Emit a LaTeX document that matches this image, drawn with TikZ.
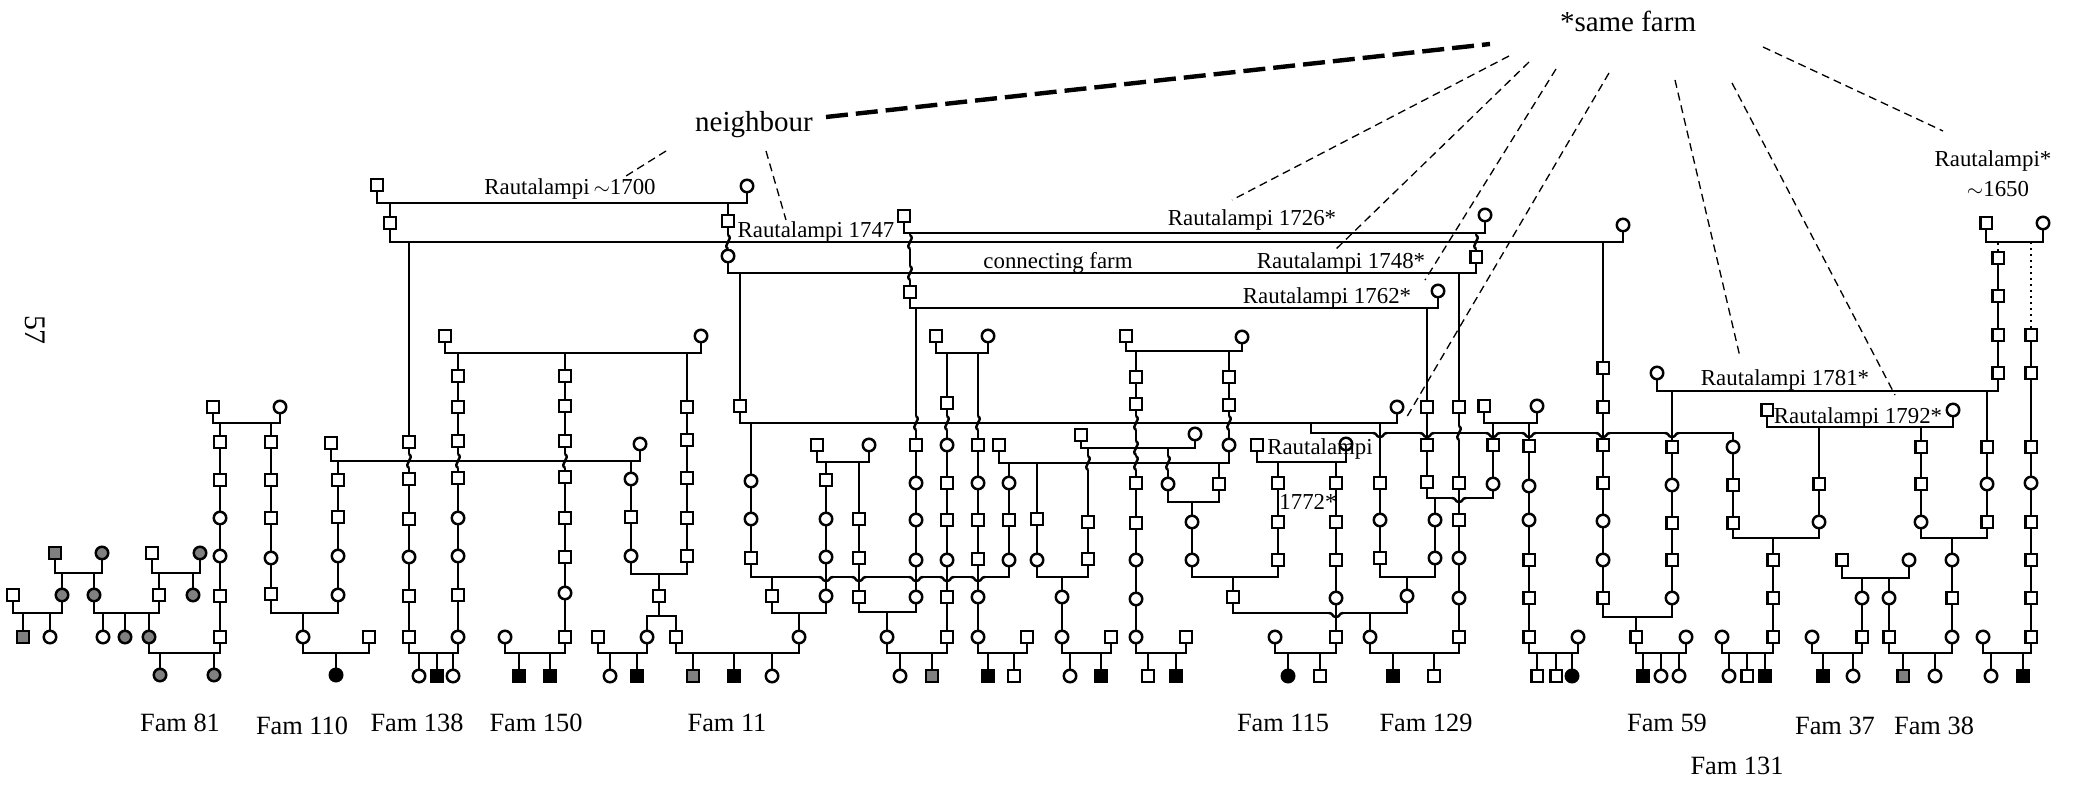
\documentclass[tikz,border=0pt]{standalone}
\usepackage{fontspec}
\setmainfont{Liberation Serif}

\tikzset{
  sq/.style={draw, rectangle, minimum size=0.23cm, inner sep=0pt, fill=white},
  ci/.style={draw, circle, minimum size=0.25cm, inner sep=0pt, fill=white},
  sqg/.style={sq, fill=gray},
  cig/.style={ci, fill=gray},
  sqb/.style={sq, fill=black},
  cib/.style={ci, fill=black},
  lab/.style={font=\fontsize{13}{15}\selectfont, inner sep=0pt},
  fam/.style={font=\fontsize{15}{18}\selectfont, inner sep=0pt},
  big/.style={font=\fontsize{16.5}{19}\selectfont, inner sep=0pt},
  link/.style={line width=0.75pt, dash pattern=on 0.16cm off 0.1cm},
  farlink/.style={line width=2.5pt, dash pattern=on 0.44cm off 0.16cm},
}
% a line of descent: name, x, list of y/kind
\newcommand{\pcol}[3]{%
  \foreach \yv/\kind [count=\ii, remember=\ii as \jj (initially 0)] in {#3}{%
    \node[\kind] (#1\ii) at (#2,\yv) {};
    \ifnum\jj>0 \draw (#1\jj) -- (#1\ii);\fi
  }}
\newcommand{\mate}[3]{\draw (#1) -- (#1 |- 0,#3) -| (#2);}
\newcommand{\kids}[2]{\foreach \kid in {#2}{\draw (\kid) -- (\kid |- 0,#1);}}
% crossings
\newcommand{\wig}[2]{%
  \fill[white] ({#1-3},{#2-7}) rectangle ({#1+3},{#2+7});
  \draw ({#1-3},#2) -- ({#1+3},#2);
  \draw (#1,{#2-7}) .. controls ({#1+6},{#2-3}) and ({#1-6},{#2+3}) .. (#1,{#2+7});}
\newcommand{\hop}[2]{%
  \fill[white] ({#1-7},{#2-3}) rectangle ({#1+7},{#2+3});
  \draw (#1,{#2-3}) -- (#1,{#2+3});
  \draw ({#1-7},#2) .. controls ({#1-3},#2) and ({#1-4},{#2+4}) .. (#1,{#2+4})
    .. controls ({#1+4},{#2+4}) and ({#1+3},#2) .. ({#1+7},#2);}

\begin{document}
\begin{tikzpicture}[x=0.02cm, y=-0.02cm, line width=1.4pt]
\useasboundingbox (0,0) rectangle (2089,786);

\node[rotate=-90, font=\fontsize{17}{20}\selectfont] (page) at (35,330) {57};

% Fam 81 and Fam 110
\node[sqg] (f1) at (55,553) {}; \node[cig] (f2) at (102,553) {}; \mate{f1}{f2}{573}
\node[sq] (f3) at (152,553) {}; \node[cig] (f4) at (200,553) {}; \mate{f3}{f4}{573}
\node[sq] (f5) at (13,595) {}; \node[cig] (f6) at (62,595) {}; \node[cig] (f7) at (94,595) {};
\node[sq] (f8) at (159,595) {}; \node[cig] (f9) at (193,595) {};
\kids{573}{f6,f7,f8,f9}
\mate{f5}{f6}{613}
\node[sqg] (f10) at (23,637) {}; \node[ci] (f11) at (50,637) {}; \kids{613}{f10,f11}
\mate{f7}{f8}{613}
\node[ci] (f12) at (103,637) {}; \node[cig] (f13) at (125,637) {}; \node[cig] (f14) at (149,637) {};
\kids{613}{f12,f13,f14}
\node[sq] (f15) at (213,407) {}; \node[ci] (f16) at (280,407) {}; \mate{f15}{f16}{423}
\pcol{a}{220}{442/sq,480/sq,518/ci,556/ci,596/sq,637/sq}
\pcol{b}{271}{442/sq,480/sq,518/sq,558/ci,594/sq}
\kids{423}{a1,b1}
\mate{f14}{a6}{653}
\node[cig] (f17) at (160,675) {}; \node[cig] (f18) at (214,675) {}; \kids{653}{f17,f18}
\node[sq] (g1) at (331,443) {}; \node[ci] (g2) at (640,444) {}; \mate{g1}{g2}{461}
\pcol{c}{338}{480/sq,517/sq,556/ci,595/ci} \kids{461}{c1}
\mate{b5}{c4}{613}
\node[ci] (g3) at (303,637) {}; \kids{613}{g3}
\node[sq] (g4) at (369,637) {}; \mate{g3}{g4}{653}
\node[cib] (g5) at (336,675) {}; \kids{653}{g5}

% old farm lines
\node[sq] (t1) at (377,185) {}; \node[ci] (t2) at (747,186) {}; \mate{t1}{t2}{203}
\node[sq] (t3) at (390,223) {}; \kids{203}{t3}
\pcol{m}{728}{221/sq,256/ci} \kids{203}{m1}
\node[ci] (t4) at (1623,225) {}; \mate{t3}{t4}{242}
\node[sq] (t5) at (904,216) {}; \node[ci] (t6) at (1485,215) {}; \mate{t5}{t6}{233}
\node[sq] (t7) at (910,292) {}; \node[sq] (t8) at (1476,257) {}; \kids{233}{t7,t8}
\mate{m2}{t8}{273}
\node[ci] (t9) at (1438,291) {}; \mate{t7}{t9}{308}
\node[sq] (t10) at (740,406) {}; \kids{273}{t10}
\node[ci] (t11) at (1397,407) {}; \mate{t10}{t11}{423}
\pcol{r}{1459}{407/sq,483/sq,520/sq,558/ci,598/ci,637/sq} \kids{273}{r1}
\pcol{q}{1427}{407/sq,445/sq,482/sq} \kids{308}{q1}
\pcol{d}{409}{442/sq,479/sq,519/sq,557/ci,596/sq,637/sq} \kids{242}{d1}
\pcol{u}{1603}{368/sq,407/sq,445/sq,483/sq,521/ci,560/ci,598/sq} \kids{242}{u1}

% Fam 138, Fam 150, Fam 11
\node[sq] (h1) at (445,336) {}; \node[ci] (h2) at (701,336) {}; \mate{h1}{h2}{353}
\pcol{e}{458}{376/sq,407/sq,441/sq,478/sq,518/ci,556/ci,595/sq,637/ci}
\pcol{k}{565}{376/sq,406/sq,441/sq,477/sq,518/sq,557/sq,593/ci,637/sq}
\pcol{p}{687}{407/sq,440/sq,478/sq,518/sq,556/sq}
\kids{353}{e1,k1,p1}
\mate{d6}{e8}{653}
\node[ci] (h3) at (419,676) {}; \node[sqb] (h4) at (437,676) {}; \node[ci] (h5) at (453,676) {};
\kids{653}{h3,h4,h5}
\node[ci] (h6) at (505,637) {}; \mate{h6}{k8}{653}
\node[sqb] (h7) at (519,676) {}; \node[sqb] (h8) at (550,676) {}; \kids{653}{h7,h8}
\pcol{v}{631}{479/ci,517/sq,556/ci} \kids{461}{v1}
\mate{v3}{p5}{574}
\node[sq] (h9) at (659,596) {}; \kids{574}{h9}
\node[ci] (h10) at (647,637) {}; \node[sq] (h11) at (676,637) {};
\draw (h9) -- (h9 |- 0,616); \draw (h10) -- (h10 |- 0,616) -| (h11);
\node[sq] (h12) at (598,637) {}; \mate{h12}{h10}{653}
\node[ci] (h13) at (610,676) {}; \node[sqb] (h14) at (637,676) {}; \kids{653}{h13,h14}

% middle families
\pcol{w}{751}{481/ci,519/ci,558/sq} \kids{423}{w1}
\node[sq] (i1) at (936,336) {}; \node[ci] (i2) at (988,336) {}; \mate{i1}{i2}{353}
\pcol{x}{947}{403/sq,445/ci,483/sq,520/sq,560/ci,597/sq,637/sq}
\pcol{y}{978}{445/sq,483/ci,520/sq,559/sq,597/ci,637/ci}
\kids{353}{x1,y1}
\pcol{z}{916}{445/sq,483/ci,520/ci,560/ci,597/ci} \kids{308}{z1}
\node[sq] (i3) at (817,445) {}; \node[ci] (i4) at (869,445) {}; \mate{i3}{i4}{462}
\pcol{aa}{826}{480/sq,519/ci,557/ci,596/ci}
\pcol{bb}{859}{519/sq,558/sq,597/sq}
\kids{462}{aa1,bb1}
\node[sq] (j1) at (999,445) {};
\node[sq] (j3) at (1126,336) {}; \node[ci] (j4) at (1242,337) {}; \mate{j3}{j4}{351}
\pcol{dd}{1229}{377/sq,405/sq,445/ci}
\pcol{ee}{1136}{377/sq,404/sq,483/sq,523/sq,560/ci,599/ci,637/ci}
\kids{351}{dd1,ee1}
\mate{j1}{dd3}{463}
\pcol{cc}{1009}{483/ci,520/sq,560/ci}
\pcol{ff}{1037}{519/sq,560/ci}
\kids{463}{cc1,ff1}
\mate{w3}{cc3}{577}
\node[sq] (i6) at (772,596) {}; \kids{577}{i6}
\mate{i6}{aa4}{613}
\node[ci] (h15) at (799,637) {}; \kids{613}{h15}
\mate{h11}{h15}{653}
\node[sqg] (h16) at (693,676) {}; \node[sqb] (h17) at (734,676) {}; \node[ci] (h18) at (772,676) {};
\kids{653}{h16,h17,h18}
\mate{bb3}{z5}{612}
\node[ci] (i7) at (887,637) {}; \kids{612}{i7}
\mate{i7}{x7}{653}
\node[ci] (i8) at (900,676) {}; \node[sqg] (i9) at (932,676) {}; \kids{653}{i8,i9}
\node[sq] (i10) at (1027,637) {}; \mate{y6}{i10}{653}
\node[sqb] (i11) at (988,676) {}; \node[sq] (i12) at (1014,676) {}; \kids{653}{i11,i12}
\node[sq] (j5) at (1081,435) {}; \node[ci] (j6) at (1195,434) {}; \mate{j5}{j6}{448}
\pcol{gg}{1088}{522/sq,559/sq}
\node[ci] (j7) at (1168,484) {};
\kids{448}{gg1,j7}
\node[sq] (j8) at (1219,484) {}; \kids{463}{j8}
\mate{ff2}{gg2}{577}
\pcol{hh}{1062}{597/ci,637/ci} \kids{577}{hh1}
\node[sq] (j9) at (1111,637) {}; \mate{hh2}{j9}{653}
\node[ci] (j10) at (1070,676) {}; \node[sqb] (j11) at (1101,676) {}; \kids{653}{j10,j11}
\node[sq] (j12) at (1186,637) {}; \mate{ee7}{j12}{653}
\node[sq] (j13) at (1148,676) {}; \node[sqb] (j14) at (1176,676) {}; \kids{653}{j13,j14}
\mate{j7}{j8}{502}
\pcol{ii}{1192}{522/ci,560/ci} \kids{502}{ii1}
\node[sq] (j15) at (1257,445) {}; \node[ci] (j16) at (1346,444) {}; \mate{j15}{j16}{462}
\pcol{jj}{1278}{483/sq,522/sq,560/sq}
\pcol{kk}{1336}{483/sq,522/sq,560/sq,598/ci,637/sq}
\kids{462}{jj1,kk1}
\mate{ii2}{jj3}{577}
\node[sq] (j17) at (1233,597) {}; \kids{577}{j17}
\node[ci] (j18) at (1275,637) {}; \mate{j18}{kk5}{653}
\node[cib] (j19) at (1288,676) {}; \node[sq] (j20) at (1320,676) {}; \kids{653}{j19,j20}

% right families
\pcol{ll}{1380}{483/sq,520/ci,558/sq} \kids{423}{ll1}
\node[sq] (k2) at (1484,406) {}; \node[ci] (k3) at (1537,406) {}; \mate{k2}{k3}{423}
\pcol{mm}{1493}{445/sq,484/ci}
\pcol{nn}{1529}{446/sq,486/ci,520/ci,560/sq,598/sq,637/sq}
\kids{423}{mm1,nn1}
\mate{q3}{mm2}{498}
\pcol{oo}{1435}{520/ci,558/ci} \kids{498}{oo1}
\mate{ll3}{oo2}{577}
\node[ci] (k4) at (1407,596) {}; \kids{577}{k4}
\mate{j17}{k4}{613}
\node[ci] (k5) at (1370,637) {}; \kids{613}{k5}
\mate{k5}{r6}{653}
\node[sqb] (k6) at (1393,676) {}; \node[sq] (k7) at (1434,676) {}; \kids{653}{k6,k7}
\node[ci] (k8) at (1578,637) {}; \mate{nn6}{k8}{653}
\node[sq] (k9) at (1537,676) {}; \node[sq] (k10) at (1556,676) {}; \node[cib] (k11) at (1572,676) {};
\kids{653}{k9,k10,k11}
\node[ci] (k12) at (1657,373) {};
\pcol{pp}{1998}{258/sq,296/sq,335/sq,373/sq}
\mate{k12}{pp4}{391}
\pcol{qq}{1672}{447/sq,485/ci,523/sq,560/sq,598/ci}
\pcol{uu}{1987}{447/sq,484/ci,522/sq}
\kids{391}{qq1,uu1}
\mate{u7}{qq5}{617}
\node[sq] (k13) at (1636,637) {}; \kids{617}{k13}
\node[ci] (k14) at (1686,637) {}; \mate{k13}{k14}{653}
\node[sqb] (k15) at (1643,676) {}; \node[ci] (k16) at (1661,676) {}; \node[ci] (k17) at (1679,676) {};
\kids{653}{k15,k16,k17}
\coordinate (stp) at (1311,423);
\pcol{rr}{1733}{447/ci,485/sq,523/sq}
\draw (stp) -- ++(0,10) -| (rr1);
\node[sq] (k18) at (1767,410) {}; \node[ci] (k19) at (1953,410) {}; \mate{k18}{k19}{427}
\pcol{ss}{1819}{484/sq,522/ci}
\pcol{tt}{1921}{447/sq,484/sq,522/ci}
\kids{427}{ss1,tt1}
\mate{rr3}{ss2}{538}
\pcol{vv}{1773}{560/sq,598/sq,637/sq} \kids{538}{vv1}
\node[ci] (k20) at (1722,637) {}; \mate{k20}{vv3}{653}
\node[ci] (k21) at (1729,676) {}; \node[sq] (k22) at (1747,676) {}; \node[sqb] (k23) at (1765,676) {};
\kids{653}{k21,k22,k23}
\mate{tt3}{uu3}{538}
\pcol{ww}{1952}{560/ci,598/sq,637/ci} \kids{538}{ww1}
\node[sq] (k24) at (1842,560) {}; \node[ci] (k25) at (1909,560) {}; \mate{k24}{k25}{578}
\pcol{xx}{1862}{598/ci,637/sq}
\pcol{yy}{1889}{598/ci,637/sq}
\kids{578}{xx1,yy1}
\node[ci] (k26) at (1812,637) {}; \mate{k26}{xx2}{653}
\node[sqb] (k27) at (1823,676) {}; \node[ci] (k28) at (1853,676) {}; \kids{653}{k27,k28}
\mate{yy2}{ww3}{653}
\node[sqg] (k29) at (1903,676) {}; \node[ci] (k30) at (1935,676) {}; \kids{653}{k29,k30}
\node[sq] (k31) at (1986,223) {}; \node[ci] (k32) at (2043,223) {}; \mate{k31}{k32}{242}
\pcol{zz}{2031}{335/sq,373/sq,447/sq,483/ci,522/sq,560/sq,598/sq,637/sq}
\draw[dotted] (pp1) -- (pp1 |- 0,242);
\draw[dotted] (zz1) -- (zz1 |- 0,242);
\node[ci] (k33) at (1983,637) {}; \mate{k33}{zz8}{653}
\node[ci] (k34) at (1991,676) {}; \node[sqb] (k35) at (2023,676) {}; \kids{653}{k34,k35}

% crossings
\wig{728}{242} \wig{910}{242} \wig{910}{273} \wig{1476}{242}
\wig{409}{461} \wig{458}{461} \wig{565}{461}
\wig{916}{423} \wig{947}{423} \wig{978}{423} \wig{1136}{423} \wig{1229}{423}
\wig{1136}{448} \wig{1136}{463} \wig{1088}{463} \wig{1168}{463}
\wig{1459}{433} \hop{1459}{498}
\hop{1380}{433} \hop{1427}{433} \hop{1493}{433} \hop{1529}{433} \hop{1603}{433} \hop{1672}{433}
\hop{826}{577} \hop{859}{577} \hop{916}{577} \hop{947}{577} \hop{978}{577}
\hop{1336}{613}

% labels
\node[big] (same) at (1628,21) {*same farm};
\node[big] (nb) at (754,125) {neighbour};
\node[lab] (l1700) at (570,189) {Rautalampi\,$\sim$1700};
\node[lab] (l1747) at (816,232) {Rautalampi 1747};
\node[lab] (l1726) at (1252,220) {Rautalampi 1726*};
\node[lab] (lconn) at (1058,263) {connecting farm};
\node[lab] (l1748) at (1341,263) {Rautalampi 1748*};
\node[lab] (l1762) at (1327,298) {Rautalampi 1762*};
\node[lab] (l1772) at (1320,449) {Rautalampi};
\node[lab] (l1772b) at (1308,502) {1772*};
\node[lab] (l1781) at (1785,380) {Rautalampi 1781*};
\node[lab] (l1792) at (1858,418) {Rautalampi 1792*};
\node[lab] (l1650) at (1993,161) {Rautalampi*};
\node[lab] (l1650b) at (1998,189) {$\sim$1650};

\node[fam] (fam81) at (180,723) {Fam 81};
\node[fam] (fam110) at (302,726) {Fam 110};
\node[fam] (fam138) at (417,723) {Fam 138};
\node[fam] (fam150) at (536,723) {Fam 150};
\node[fam] (fam11) at (727,723) {Fam 11};
\node[fam] (fam115) at (1283,723) {Fam 115};
\node[fam] (fam129) at (1426,723) {Fam 129};
\node[fam] (fam59) at (1667,723) {Fam 59};
\node[fam] (fam37) at (1835,726) {Fam 37};
\node[fam] (fam38) at (1934,726) {Fam 38};
\node[fam] (fam131) at (1737,766) {Fam 131};

% same farm / neighbour links
\path (1509,56) coordinate (sf1) (1529,62) coordinate (sf2) (1556,69) coordinate (sf3)
      (1609,73) coordinate (sf4) (1675,80) coordinate (sf5) (1732,83) coordinate (sf6)
      (1763,47) coordinate (sf7);
\path (1232,200) coordinate (tf1) (1333,252) coordinate (tf2) (1425,280) coordinate (tf3)
      (1405,420) coordinate (tf4) (1740,357) coordinate (tf5) (1895,395) coordinate (tf6)
      (1943,131) coordinate (tf7);
\foreach \i in {1,...,7} \draw[link] (sf\i) -- (tf\i);
\path (826,117) coordinate (nb0) (1490,44) coordinate (nb9) (666,151) coordinate (nb1)
      (626,176) coordinate (nb2) (766,151) coordinate (nb3) (786,220) coordinate (nb4);
\draw[farlink] (nb0) -- (nb9);
\draw[link] (nb1) -- (nb2);
\draw[link] (nb3) -- (nb4);
\end{tikzpicture}
\end{document}
